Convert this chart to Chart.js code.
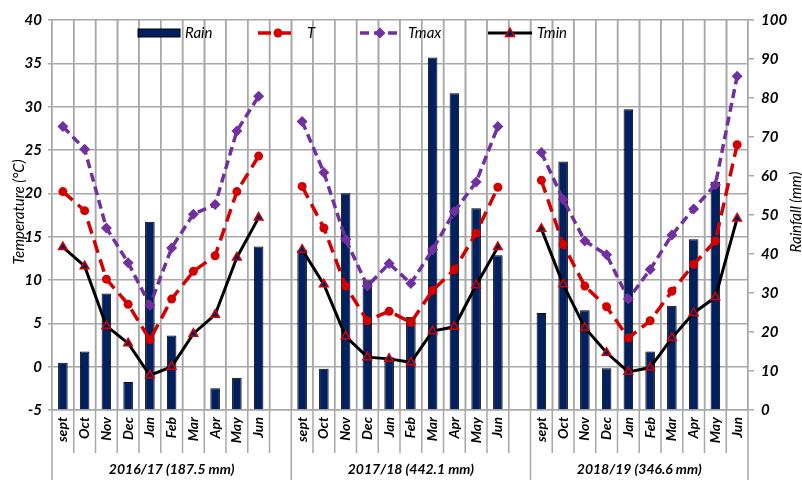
<!DOCTYPE html>
<html>
<head>
<meta charset="utf-8">
<script src="https://cdn.jsdelivr.net/npm/chart.js@4.4.1/dist/chart.umd.min.js"></script>
<style>
  html, body { margin: 0; padding: 0; background: #fff; overflow: hidden; }
  #wrap { width: 802px; height: 480px; position: relative; }
</style>
</head>
<body>
<div id="wrap"><canvas id="climChart"></canvas></div>
<script>
// Months of each season, the gap category separates seasons
const months = ['sept', 'Oct', 'Nov', 'Dec', 'Jan', 'Feb', 'Mar', 'Apr', 'May', 'Jun'];
const seasonLabels = ['2016/17 (187.5 mm)', '2017/18 (442.1 mm)', '2018/19 (346.6 mm)'];

// Rainfall (mm), right axis
const rain1617 = [12.1, 15.0, 29.9, 7.2, 48.3, 19.1, 0, 5.6, 8.3, 41.9];
const rain1718 = [41.0, 10.6, 55.6, 33.3, 13.5, 23.9, 90.4, 81.2, 51.7, 39.7];
const rain1819 = [24.9, 63.7, 25.6, 10.7, 77.1, 15.0, 26.7, 43.8, 58.5, 0];

// Mean temperature (°C)
const t1617 = [20.2, 18.0, 10.1, 7.2, 3.1, 7.8, 11.0, 12.8, 20.2, 24.3];
const t1718 = [20.8, 16.0, 9.3, 5.3, 6.4, 5.1, 8.8, 11.2, 15.4, 20.7];
const t1819 = [21.5, 14.1, 9.3, 6.9, 3.3, 5.3, 8.7, 11.8, 14.5, 25.6];

// Max temperature
const tmax1617 = [27.7, 25.1, 16.0, 12.0, 7.1, 13.7, 17.6, 18.7, 27.2, 31.2];
const tmax1718 = [28.3, 22.4, 14.7, 9.3, 11.9, 9.6, 13.5, 17.9, 21.3, 27.7];
const tmax1819 = [24.7, 19.3, 14.5, 12.9, 7.8, 11.2, 15.2, 18.2, 21.0, 33.5];

// Min temperature
const tmin1617 = [13.8, 11.6, 4.7, 2.7, -1.0, 0.0, 3.8, 6.0, 12.6, 17.2];
const tmin1718 = [13.5, 9.5, 3.5, 1.1, 0.9, 0.5, 4.1, 4.6, 9.4, 13.8];
const tmin1819 = [15.9, 9.5, 4.5, 1.6, -0.6, -0.1, 3.3, 6.2, 8.0, 17.1];

// Join three seasons with an empty category between them
function joinSeasons(a, b, c, gap) {
    return [...a, gap, ...b, gap, ...c];
}

const categories = joinSeasons(months, months, months, '');
const rainData = joinSeasons(rain1617, rain1718, rain1819, null);
const tData = joinSeasons(t1617, t1718, t1819, null);
const tmaxData = joinSeasons(tmax1617, tmax1718, tmax1819, null);
const tminData = joinSeasons(tmin1617, tmin1718, tmin1819, null);

// category index where each season block starts / ends
const groupEdges = [0, 11, 22, 32];

const gridColor = '#a8a8a8';
const navy = '#002060';
const red = '#d40000';
const purple = '#7030a0';
const fontFam = 'Lato, "DejaVu Sans", sans-serif';

Chart.defaults.font.family = fontFam;
Chart.defaults.color = '#000';

// x pixel of the boundary on the left of category i
function boundaryPx(chart, i) {
    const x = chart.scales.x;
    const area = chart.chartArea;
    const w = (area.right - area.left) / categories.length;
    return i < categories.length ? x.getPixelForValue(i) - w / 2 : x.getPixelForValue(i - 1) + w / 2;
}

// Vertical gridlines between categories, under the data
const vGridPlugin = {
    id: 'vgrid',
    beforeDatasetsDraw(chart) {
        const ctx = chart.ctx;
        const area = chart.chartArea;
        ctx.save();
        ctx.strokeStyle = gridColor;
        ctx.lineWidth = 1.5;
        for (let i = 1; i < categories.length; i++) {
            const px = boundaryPx(chart, i);
            ctx.beginPath();
            ctx.moveTo(px, area.top);
            ctx.lineTo(px, area.bottom);
            ctx.stroke();
        }
        ctx.restore();
    }
};

// Draws the legend, axis titles, label dividers and season labels
const extrasPlugin = {
    id: 'extras',
    afterDraw(chart) {
        const ctx = chart.ctx;
        const area = chart.chartArea;

        ctx.save();

        // dividers between month labels and season blocks
        ctx.strokeStyle = gridColor;
        ctx.lineWidth = 1.5;
        for (let i = 0; i <= categories.length; i++) {
            const px = boundaryPx(chart, i);
            const isEdge = groupEdges.includes(i);
            ctx.beginPath();
            ctx.moveTo(px, area.bottom);
            ctx.lineTo(px, isEdge ? 480 : 453);
            ctx.stroke();
        }

        // season labels
        ctx.fillStyle = '#000';
        ctx.font = 'italic bold 14px ' + fontFam;
        ctx.textAlign = 'center';
        ctx.textBaseline = 'middle';
        seasonLabels.forEach((label, k) => {
            const x0 = boundaryPx(chart, groupEdges[k]);
            const x1 = boundaryPx(chart, groupEdges[k + 1]);
            ctx.fillText(label, (x0 + x1) / 2, 469);
        });

        // axis titles
        ctx.font = 'italic 15px ' + fontFam;
        ctx.save();
        ctx.translate(19, 212);
        ctx.rotate(-Math.PI / 2);
        ctx.fillText('Temperature (°C)', 0, 0);
        ctx.restore();
        ctx.save();
        ctx.translate(796, 212);
        ctx.rotate(-Math.PI / 2);
        ctx.fillText('Rainfall (mm)', 0, 0);
        ctx.restore();

        // legend
        const ly = 33;
        ctx.textAlign = 'left';
        ctx.font = 'italic 15px ' + fontFam;

        ctx.fillStyle = navy;
        ctx.fillRect(138, ly - 4, 42, 8);
        ctx.strokeStyle = '#000';
        ctx.lineWidth = 1;
        ctx.strokeRect(138, ly - 4, 42, 8);
        ctx.fillStyle = '#000';
        ctx.fillText('Rain', 185, ly);

        ctx.strokeStyle = red;
        ctx.lineWidth = 3.5;
        ctx.setLineDash([13, 7]);
        ctx.beginPath(); ctx.moveTo(258, ly); ctx.lineTo(297, ly); ctx.stroke();
        ctx.setLineDash([]);
        ctx.fillStyle = red;
        ctx.beginPath(); ctx.arc(278, ly, 4.5, 0, Math.PI * 2); ctx.fill();
        ctx.fillStyle = '#000';
        ctx.fillText('T', 307, ly);

        ctx.strokeStyle = purple;
        ctx.setLineDash([9, 5]);
        ctx.beginPath(); ctx.moveTo(360, ly); ctx.lineTo(399, ly); ctx.stroke();
        ctx.setLineDash([]);
        ctx.fillStyle = purple;
        ctx.beginPath();
        ctx.moveTo(380, ly - 5.5); ctx.lineTo(385.5, ly); ctx.lineTo(380, ly + 5.5); ctx.lineTo(374.5, ly);
        ctx.closePath(); ctx.fill();
        ctx.fillStyle = '#000';
        ctx.fillText('Tmax', 408, ly);

        ctx.strokeStyle = '#000';
        ctx.lineWidth = 3;
        ctx.beginPath(); ctx.moveTo(488, ly); ctx.lineTo(532, ly); ctx.stroke();
        ctx.fillStyle = navy;
        ctx.strokeStyle = red;
        ctx.lineWidth = 1.5;
        ctx.beginPath();
        ctx.moveTo(510, ly - 5); ctx.lineTo(514.5, ly + 3.5); ctx.lineTo(505.5, ly + 3.5);
        ctx.closePath(); ctx.fill(); ctx.stroke();
        ctx.fillStyle = '#000';
        ctx.fillText('Tmin', 537, ly);

        ctx.restore();
    }
};

const ctx = document.getElementById('climChart').getContext('2d');

new Chart(ctx, {
    type: 'bar',
    data: {
        labels: categories,
        datasets: [
            {
                type: 'line',
                label: 'Tmin',
                data: tminData,
                yAxisID: 'y',
                borderColor: '#000',
                borderWidth: 3,
                pointStyle: 'triangle',
                pointRadius: 5,
                pointBackgroundColor: navy,
                pointBorderColor: red,
                pointBorderWidth: 1.5,
                spanGaps: false,
                tension: 0,
                order: 1
            },
            {
                type: 'line',
                label: 'Tmax',
                data: tmaxData,
                yAxisID: 'y',
                borderColor: purple,
                borderWidth: 3.5,
                borderDash: [9, 5],
                pointStyle: 'rectRot',
                pointRadius: 5.5,
                pointBackgroundColor: purple,
                pointBorderColor: purple,
                pointBorderWidth: 0,
                spanGaps: false,
                order: 2
            },
            {
                type: 'line',
                label: 'T',
                data: tData,
                yAxisID: 'y',
                borderColor: red,
                borderWidth: 3.5,
                borderDash: [13, 7],
                pointStyle: 'circle',
                pointRadius: 4.5,
                pointBackgroundColor: red,
                pointBorderColor: red,
                pointBorderWidth: 0,
                spanGaps: false,
                order: 3
            },
            {
                type: 'bar',
                label: 'Rain',
                data: rainData,
                yAxisID: 'y1',
                backgroundColor: navy,
                borderColor: '#000',
                borderWidth: 1,
                categoryPercentage: 1,
                barPercentage: 0.44,
                order: 10
            }
        ]
    },
    options: {
        responsive: true,
        maintainAspectRatio: false,
        animation: false,
        layout: { padding: { top: 20, left: 0, right: 0, bottom: 0 } },
        plugins: {
            legend: { display: false },
            tooltip: { enabled: false }
        },
        scales: {
            x: {
                offset: true,
                grid: {
                    offset: true,
                    color: gridColor,
                    lineWidth: 1.5,
                    drawTicks: false
                },
                border: { color: gridColor, width: 1.5 },
                ticks: {
                    autoSkip: false,
                    minRotation: 90,
                    maxRotation: 90,
                    padding: 7,
                    font: { size: 14, style: 'italic', weight: 'bold' }
                },
                afterFit(scale) { scale.height = 70; }
            },
            y: {
                position: 'left',
                min: -5,
                max: 40,
                ticks: {
                    stepSize: 5,
                    padding: 6,
                    font: { size: 15, style: 'italic', weight: 'bold' }
                },
                grid: {
                    color: gridColor,
                    lineWidth: 1.5,
                    tickLength: 4
                },
                border: { color: gridColor, width: 1.5 },
                afterFit(scale) { scale.width = 52; }
            },
            y1: {
                position: 'right',
                min: 0,
                max: 100,
                ticks: {
                    stepSize: 10,
                    padding: 7,
                    font: { size: 15, style: 'italic', weight: 'bold' }
                },
                grid: {
                    drawOnChartArea: false,
                    color: gridColor,
                    lineWidth: 1.5,
                    tickLength: 6
                },
                border: { color: gridColor, width: 1.5 },
                afterFit(scale) { scale.width = 54; }
            }
        }
    },
    plugins: [vGridPlugin, extrasPlugin]
});
</script>
</body>
</html>
